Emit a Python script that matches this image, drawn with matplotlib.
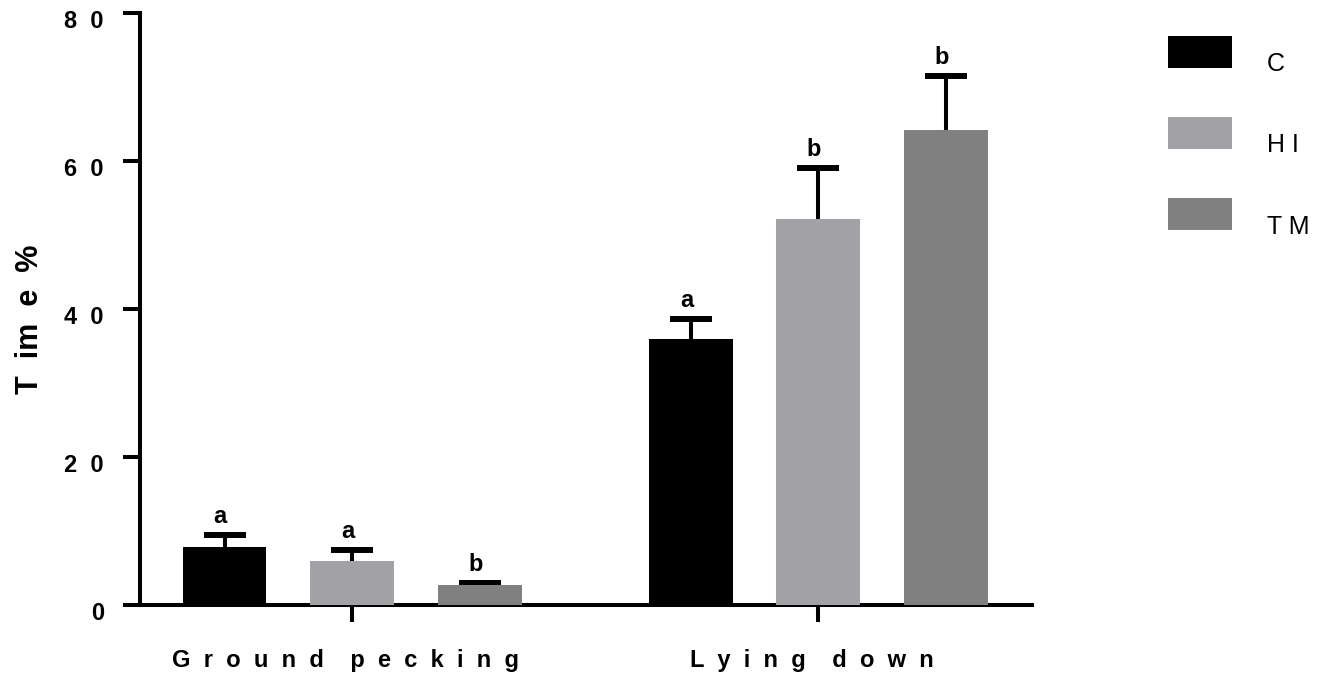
import matplotlib
matplotlib.use("Agg")
import matplotlib.pyplot as plt
from matplotlib.transforms import ScaledTranslation
from matplotlib.patches import Rectangle
from matplotlib.container import BarContainer
from matplotlib.legend_handler import HandlerPatch, update_from_first_child
import numpy as np

plt.rcParams['font.family'] = ['Liberation Sans', 'DejaVu Sans']

# data
behaviours = ["Ground pecking", "Lying down"]
groups = ["C", "H I", "T M"]
colors = ["#000000", "#a2a2a6", "#808080"]
means = {
    "C": [7.9, 35.9],
    "H I": [5.9, 52.2],
    "T M": [2.7, 64.2],
}
errs = {
    "C": [1.6, 2.8],
    "H I": [1.5, 6.9],
    "T M": [0.3, 7.3],
}
letters = {
    "C": ["a", "a"],
    "H I": ["a", "b"],
    "T M": ["b", "b"],
}
yticks = [0, 20, 40, 60, 80]


def spaced(s, gap="  ", wgap="    "):
    # wide letter spacing like the original figure
    return wgap.join(gap.join(w) for w in s.split())


def raised_box(legend, orig_handle, xdescent, ydescent, width, height, fontsize):
    # legend swatch sits just above the text baseline
    return Rectangle((-xdescent, 2.5), width, height)


fig = plt.figure(figsize=(13.29, 6.81), dpi=100)
ax = fig.add_axes([140 / 1329, 76 / 681, 892 / 1329, 592 / 681])

x = np.arange(len(behaviours))
width = 0.18
step = 0.2736

for i, g in enumerate(groups):
    xs = x + (i - 1) * step
    ax.bar(xs, means[g], width, color=colors[i], zorder=3, label=g)
    eb = ax.errorbar(xs, means[g], yerr=[np.zeros(len(xs)), errs[g]], fmt="none",
                     ecolor="black", elinewidth=2.9, capsize=15, capthick=4.3, zorder=2)
    eb[1][0].set_visible(False)  # no lower cap
    for xi, m, e, lt in zip(xs, means[g], errs[g], letters[g]):
        ax.annotate(lt, (xi, m + e), xytext=(-3, 8.5), textcoords="offset points",
                    ha="center", va="baseline", fontsize=17, fontweight="bold")

ax.set_xlim(-0.455, 1.459)
ax.set_ylim(0, 80)
ax.set_yticks(yticks)
ax.set_yticklabels([spaced(str(t)) for t in yticks], fontsize=17, fontweight="bold")
ax.set_xticks(x)
ax.set_xticklabels([spaced(b) + "  " for b in behaviours], fontsize=17, fontweight="bold")
ax.tick_params(axis="x", length=12, width=2.9, pad=20)
ax.tick_params(axis="y", length=12, width=2.9, pad=14)
shift = ScaledTranslation(0, -6 / 100, fig.dpi_scale_trans)
for lab in ax.get_yticklabels():
    lab.set_transform(lab.get_transform() + shift)

ax.set_ylabel("T  im  e  %", fontsize=22, fontweight="bold")
ax.yaxis.set_label_coords(-0.107, 0.483)

for s in ["top", "right"]:
    ax.spines[s].set_visible(False)
for s in ["left", "bottom"]:
    ax.spines[s].set_linewidth(2.9)

ax.legend(loc="upper left", bbox_to_anchor=(1168 / 1329, 1 - 47 / 681),
          bbox_transform=fig.transFigure, frameon=False, fontsize=18,
          borderaxespad=0, borderpad=0,
          handler_map={BarContainer: HandlerPatch(patch_func=raised_box,
                                                  update_func=update_from_first_child)},
          handlelength=2.56, handleheight=1.59, labelspacing=1.97, handletextpad=1.4)

fig.savefig("out.png", dpi=100)
